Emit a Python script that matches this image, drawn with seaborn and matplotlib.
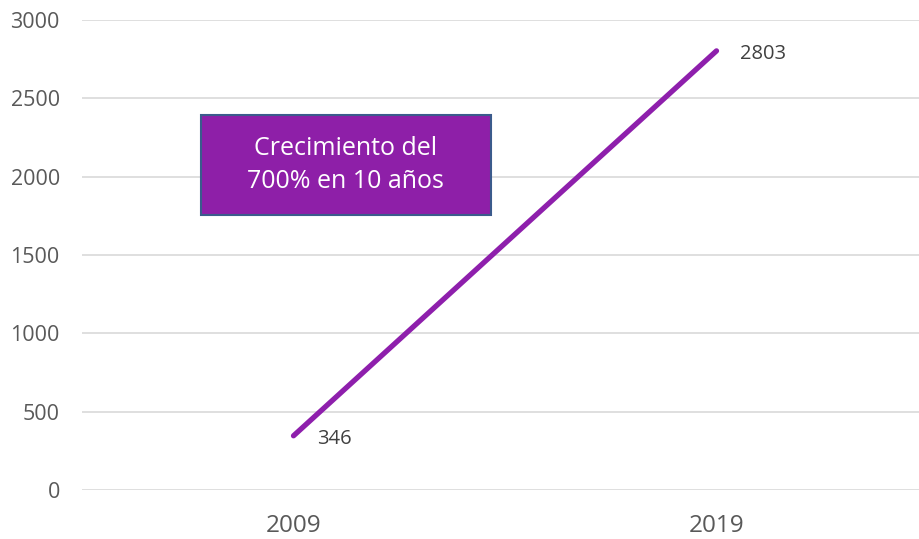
import seaborn as sns
import matplotlib.pyplot as plt
from matplotlib.patches import Rectangle
import pandas as pd

years = ["2009", "2019"]
values = [346, 2803]
y_ticks = [0, 500, 1000, 1500, 2000, 2500, 3000]
box_text = "Crecimiento del\n700% en 10 años"

LINE_COLOR = "#8e1fac"
BOX_COLOR = "#8e1fa8"


def main() -> None:
    sns.set_theme(style="white")
    plt.rcParams['font.family'] = ['Open Sans', 'DejaVu Sans']

    df = pd.DataFrame({"x": range(len(years)), "valor": values})

    fig = plt.figure(figsize=(9.19, 5.39), dpi=100)
    ax = fig.add_axes([82 / 919, 49 / 539, 837 / 919, 470 / 539])

    for t in y_ticks:
        ax.axhline(t, color="#d9d9d9", lw=1.2, zorder=0)

    sns.lineplot(data=df, x="x", y="valor", color=LINE_COLOR, linewidth=3.8,
                 ax=ax, solid_capstyle="round")

    for x, v in zip(df["x"], values):
        ax.annotate(str(v), (x, v), xytext=(17, -2), textcoords="offset points",
                    ha="left", va="center", fontsize=14.5, color="#404040")

    ax.set_xlim(-0.5, -0.5 + 837 / 423)
    ax.set_ylim(0, 3000)
    ax.set_xticks(range(len(years)))
    ax.set_xticklabels(years, fontsize=17.5, color="#595959")
    ax.set_yticks(y_ticks)
    ax.set_yticklabels([str(t) for t in y_ticks], fontsize=15.5, color="#595959")
    ax.tick_params(axis="x", pad=17, length=0)
    ax.tick_params(axis="y", pad=16, length=0)
    ax.set_xlabel("")
    ax.set_ylabel("")
    sns.despine(ax=ax, left=True, bottom=True, top=True, right=True)

    # text box
    x0 = (200 - 293) / 423
    x1 = (490 - 293) / 423
    y0 = (490 - 215) / 470 * 3000
    y1 = (490 - 115) / 470 * 3000
    ax.add_patch(Rectangle((x0, y0), x1 - x0, y1 - y0, facecolor=BOX_COLOR,
                           edgecolor="#3b5b8c", lw=1.5, zorder=3, clip_on=False))
    ax.text((x0 + x1) / 2, (y0 + y1) / 2, box_text, ha="center", va="center",
            fontsize=18, color="white", linespacing=1.45, zorder=4)

    fig.savefig("out.png", dpi=100)


if __name__ == '__main__':
    main()
